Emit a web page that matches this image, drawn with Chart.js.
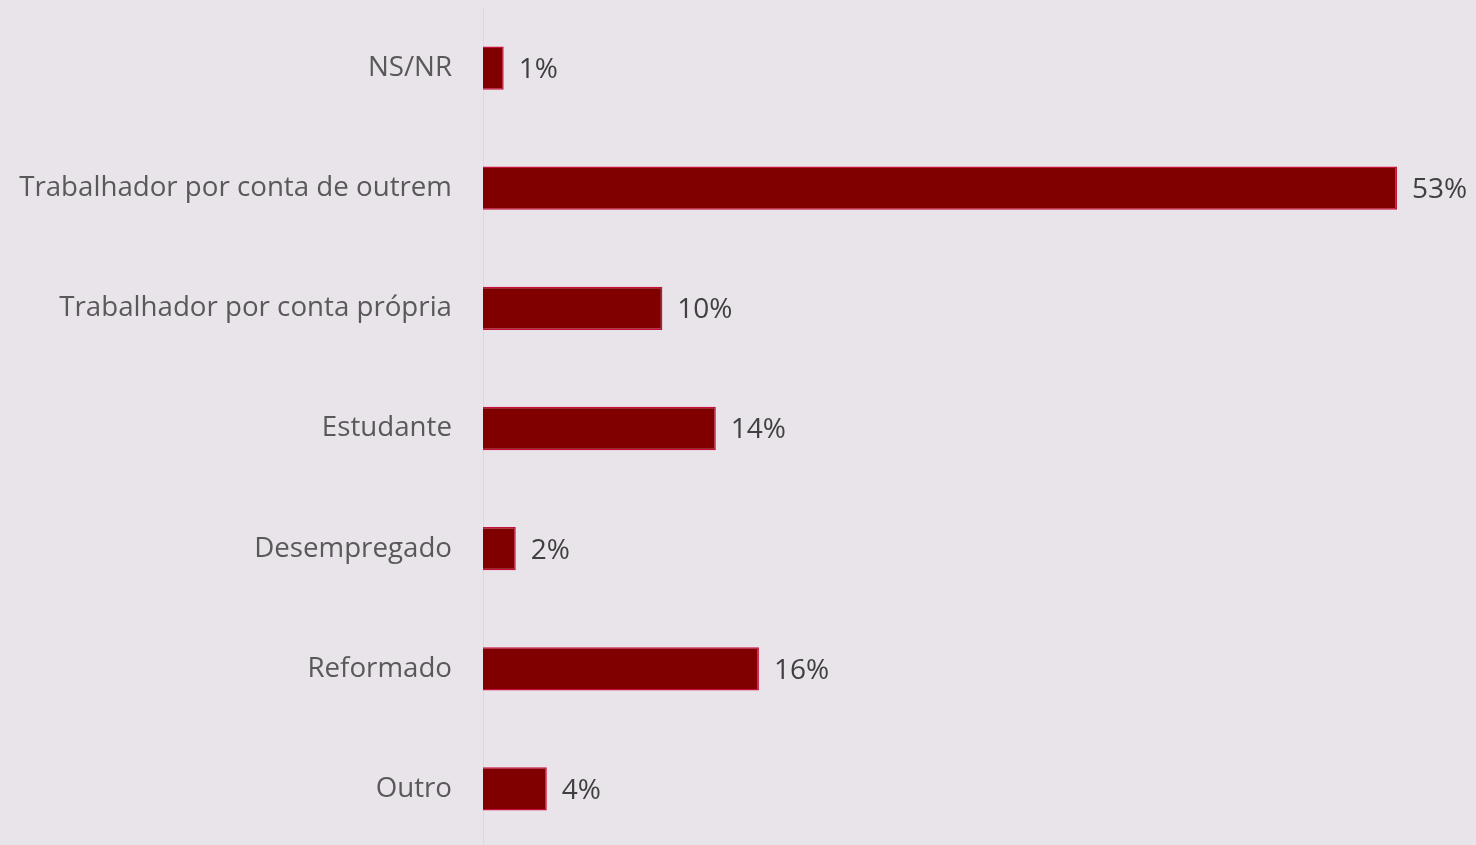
<!DOCTYPE html>
<html lang="pt">
<head>
    <meta charset="UTF-8">
    <title>Situação profissional</title>
    <script src="https://cdn.jsdelivr.net/npm/chart.js"></script>
    <style>
        html, body {
            margin: 0;
            padding: 0;
            background-color: #e9e4ea;
            overflow: hidden;
        }
        .container {
            width: 1476px;
            height: 845px;
            overflow: hidden;
        }
    </style>
</head>
<body>

    <div class="container">
        <!-- canvas a bit taller than the window: the last band runs past the bottom edge -->
        <canvas id="jobChart" width="1476" height="849"></canvas>
    </div>

    <script>
        const categories = [
            "NS/NR",
            "Trabalhador por conta de outrem",
            "Trabalhador por conta própria",
            "Estudante",
            "Desempregado",
            "Reformado",
            "Outro"
        ];
        const percentages = [1.2, 53, 10.4, 13.5, 1.9, 16, 3.7];

        // draws "xx%" just right of each bar
        const barLabels = {
            id: "barLabels",
            afterDatasetsDraw(chart) {
                const ctx = chart.ctx;
                const meta = chart.getDatasetMeta(0);
                ctx.save();
                ctx.font = "28px 'Open Sans', sans-serif";
                ctx.fillStyle = "#404040";
                ctx.textAlign = "left";
                ctx.textBaseline = "middle";
                meta.data.forEach((bar, i) => {
                    ctx.fillText(Math.round(percentages[i]) + "%", bar.x + 15, bar.y + 2);
                });
                ctx.restore();
            }
        };

        const ctx = document.getElementById("jobChart").getContext("2d");
        new Chart(ctx, {
            type: "bar",
            data: {
                labels: categories,
                datasets: [{
                    data: percentages,
                    backgroundColor: "#800000",
                    borderColor: "#c8103c",
                    borderWidth: 1.5,
                    barPercentage: 0.36,
                    categoryPercentage: 1
                }]
            },
            options: {
                indexAxis: "y",
                responsive: false,
                animation: false,
                layout: { padding: { top: 8, bottom: 0, left: 0, right: 0 } },
                plugins: {
                    legend: { display: false },
                    tooltip: { enabled: false }
                },
                scales: {
                    x: {
                        display: false,
                        min: 0,
                        max: 57.58
                    },
                    y: {
                        afterFit(scale) {
                            scale.width = 483;
                            scale.paddingTop = 0;
                            scale.paddingBottom = 0;
                        },
                        grid: { display: false, drawTicks: false },
                        border: { display: true, color: "#d9d9d9", width: 1 },
                        ticks: {
                            padding: 31,
                            color: "#595959",
                            font: { family: "'Open Sans', sans-serif", size: 27.7 }
                        }
                    }
                }
            },
            plugins: [barLabels]
        });
    </script>

</body>
</html>
